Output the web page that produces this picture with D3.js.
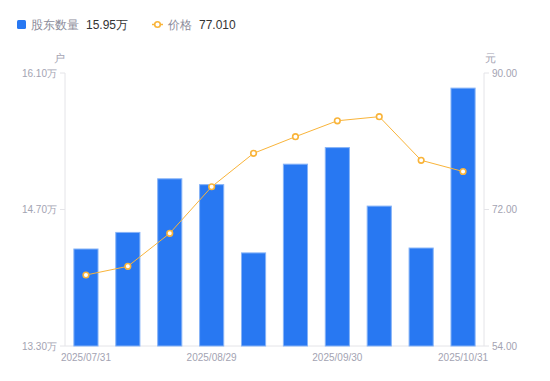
<!DOCTYPE html>
<html><head><meta charset="utf-8">
<script src="https://cdn.jsdelivr.net/npm/d3@7"></script>
<style>body{margin:0;background:#fff}svg{display:block;font-family:"Liberation Sans",Arial,sans-serif}</style>
</head><body><svg id="c" width="550" height="381"></svg>
<script>
const dates = ["2025/07/31","2025/08/08","2025/08/15","2025/08/29","2025/09/10","2025/09/19","2025/09/30","2025/10/10","2025/10/20","2025/10/31"];
const holders = [14.30,14.47,15.02,14.96,14.26,15.17,15.34,14.74,14.31,15.95];
const prices = [63.36,64.51,68.86,75.00,79.41,81.60,83.70,84.24,78.49,77.01];
const leftTicks = [13.30,14.70,16.10];
const rightTicks = [54,72,90];
const xLabels = ["2025/07/31","2025/08/29","2025/09/30","2025/10/31"];

const svg = d3.select("#c");
const m = {l:65, r:484, t:73, b:346};
const x = d3.scaleBand().domain(dates).range([m.l, m.r]).paddingInner(0.4).paddingOuter(0.2);
const yL = d3.scaleLinear().domain([13.30,16.10]).range([m.b, m.t]);
const yR = d3.scaleLinear().domain([54,90]).range([m.b, m.t]);
const gray = "#e4e4e8", txt = "#a3a3b2";

svg.append("line").attr("x1",m.l).attr("x2",m.l).attr("y1",m.t).attr("y2",m.b).attr("stroke",gray);
svg.append("line").attr("x1",m.r).attr("x2",m.r).attr("y1",m.t).attr("y2",m.b).attr("stroke",gray);
svg.append("line").attr("x1",m.l).attr("x2",m.r).attr("y1",m.b).attr("y2",m.b).attr("stroke",gray);

const gl = svg.append("g");
leftTicks.forEach(v=>{
  gl.append("line").attr("x1",m.l-5).attr("x2",m.l).attr("y1",yL(v)).attr("y2",yL(v)).attr("stroke",gray);
  gl.append("text").attr("x",m.l-8).attr("y",yL(v)).attr("dy","0.35em").attr("text-anchor","end")
    .attr("font-size",10).attr("fill",txt).text(v.toFixed(2)+"万");
});
const gr = svg.append("g");
rightTicks.forEach(v=>{
  gr.append("line").attr("x1",m.r).attr("x2",m.r+5).attr("y1",yR(v)).attr("y2",yR(v)).attr("stroke",gray);
  gr.append("text").attr("x",m.r+8).attr("y",yR(v)).attr("dy","0.35em").attr("text-anchor","start")
    .attr("font-size",10).attr("fill",txt).text(v.toFixed(2));
});
svg.append("text").attr("x",59).attr("y",62).attr("text-anchor","middle").attr("font-size",11).attr("fill",txt).text("户");
svg.append("text").attr("x",490).attr("y",62).attr("text-anchor","middle").attr("font-size",11).attr("fill",txt).text("元");

xLabels.forEach(d=>{
  svg.append("text").attr("x",x(d)+x.bandwidth()/2).attr("y",361).attr("text-anchor","middle")
    .attr("font-size",10).attr("fill",txt).text(d);
});

svg.append("g").selectAll("rect").data(holders).join("rect")
  .attr("x",(d,i)=>x(dates[i])+0.5).attr("y",d=>yL(d)+0.5)
  .attr("width",x.bandwidth()-1).attr("height",d=>m.b-yL(d)-0.5)
  .attr("fill","#2878f2").attr("stroke","#86b3f7").attr("stroke-width",1);

const line = d3.line().x((d,i)=>x(dates[i])+x.bandwidth()/2).y(d=>yR(d));
svg.append("path").datum(prices).attr("d",line).attr("fill","none").attr("stroke","#f9b43a").attr("stroke-width",1);
svg.append("g").selectAll("circle").data(prices).join("circle")
  .attr("cx",(d,i)=>x(dates[i])+x.bandwidth()/2).attr("cy",d=>yR(d)).attr("r",2.8)
  .attr("fill","#fff").attr("stroke","#f9b43a").attr("stroke-width",1.6);

svg.append("rect").attr("x",17).attr("y",20).attr("width",9).attr("height",9).attr("rx",1.5).attr("fill","#2878f2");
svg.append("text").attr("x",31).attr("y",29).attr("font-size",12).attr("fill","#8c8c9a").text("股东数量");
svg.append("text").attr("x",86).attr("y",29).attr("font-size",12).attr("fill","#333").text(holders[holders.length-1].toFixed(2)+"万");
svg.append("line").attr("x1",152).attr("x2",163).attr("y1",24.5).attr("y2",24.5).attr("stroke","#f9b43a").attr("stroke-width",1.5);
svg.append("circle").attr("cx",157.5).attr("cy",24.5).attr("r",2.8).attr("fill","#fff").attr("stroke","#f9b43a").attr("stroke-width",1.6);
svg.append("text").attr("x",168).attr("y",29).attr("font-size",12).attr("fill","#8c8c9a").text("价格");
svg.append("text").attr("x",199).attr("y",29).attr("font-size",12).attr("fill","#333").text("77.010");
</script></body></html>
